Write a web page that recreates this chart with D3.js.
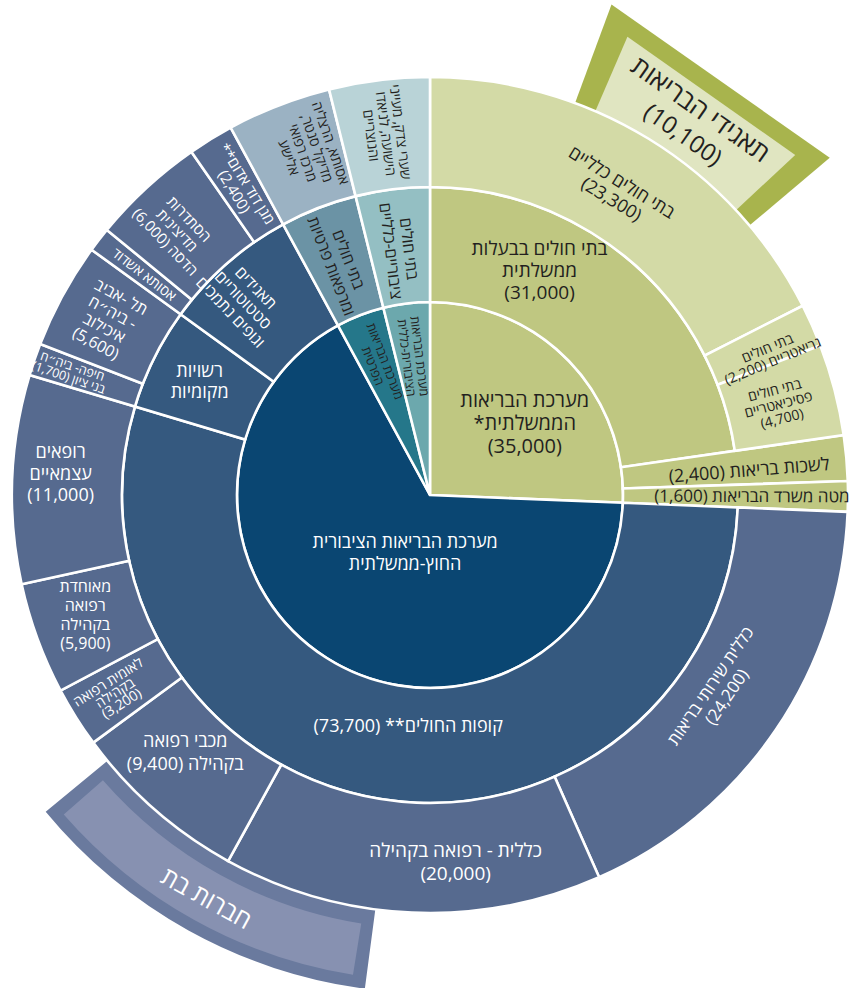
<!DOCTYPE html>
<html lang="he">
<head>
<meta charset="utf-8">
<script src="https://cdn.jsdelivr.net/npm/d3@7"></script>
<style>
  body { margin: 0; background: #fff; }
  svg text { font-family: "Open Sans", "DejaVu Sans", sans-serif; }
</style>
</head>
<body>
<svg id="chart"></svg>
<script>
// ---- data (employees) ----
const systems = [
  {id: 'gov', label: 'מערכת הבריאות\nהממשלתית*\n(35,000)', value: 35000},
  {id: 'pub', label: 'מערכת הבריאות הציבורית\nהחוץ-ממשלתית'},
  {id: 'prv', label: 'מערכת הבריאות\nהפרטית'},
  {id: 'pgn', label: 'מערכת הבריאות\nהציבורית-כללית'}
];

const groups = [
  {id: 'hosp', parent: 'gov', label: 'בתי חולים בבעלות\nממשלתית\n(31,000)', value: 31000},
  {id: 'lishkot', parent: 'gov', label: 'לשכות בריאות (2,400)', value: 2400},
  {id: 'mate', parent: 'gov', label: 'מטה משרד הבריאות (1,600)', value: 1600},
  {id: 'kupot', parent: 'pub', label: 'קופות החולים** (73,700)', value: 73700},
  {id: 'rashuyot', parent: 'pub', label: 'רשויות\nמקומיות'},
  {id: 'taagidim', parent: 'pub', label: 'תאגידים\nסטטוטוריים\nוגופים נתמכים'},
  {id: 'prvHosp', parent: 'prv', label: 'בתי חולים\nומרפאות פרטיות'},
  {id: 'pgnHosp', parent: 'pgn', label: 'בתי חולים\nציבוריים-כלליים'}
];

const units = [
  {id: 'general', parent: 'hosp', label: 'בתי חולים כלליים\n(23,300)', value: 23300},
  {id: 'geriatric', parent: 'hosp', label: 'בתי חולים\nגריאטריים (2,200)', value: 2200},
  {id: 'psych', parent: 'hosp', label: 'בתי חולים\nפסיכיאטריים\n(4,700)', value: 4700},
  {id: 'clalit', parent: 'kupot', label: 'כללית שירותי בריאות\n(24,200)', value: 24200},
  {id: 'clalitCom', parent: 'kupot', label: 'כללית - רפואה בקהילה\n(20,000)', value: 20000},
  {id: 'maccabi', parent: 'kupot', label: 'מכבי רפואה\nבקהילה (9,400)', value: 9400},
  {id: 'leumit', parent: 'kupot', label: 'לאומית רפואה\nבקהילה\n(3,200)', value: 3200},
  {id: 'meuhedet', parent: 'kupot', label: 'מאוחדת\nרפואה\nבקהילה\n(5,900)', value: 5900},
  {id: 'independent', parent: 'kupot', label: 'רופאים\nעצמאיים\n(11,000)', value: 11000},
  {id: 'bneiZion', parent: 'rashuyot', label: 'חיפה- ביה״ח\nבני ציון (1,700)', value: 1700},
  {id: 'ichilov', parent: 'rashuyot', label: 'תל -אביב\n- ביה״ח\nאיכילוב\n(5,600)', value: 5600},
  {id: 'asutaAshdod', parent: 'taagidim', label: 'אסותא אשדוד', value: 1300},
  {id: 'hadassah', parent: 'taagidim', label: 'הסתדרות\nמדיצינית\nהדסה (6,000)', value: 6000},
  {id: 'mda', parent: 'taagidim', label: 'מגן דוד אדום**\n(2,400)', value: 2400},
  {id: 'privateList', parent: 'prvHosp', label: 'אסותא, הרצליה\nמדיקל סנטר,\nמרכז רפואי\nאלישע', value: 5500},
  {id: 'publicList', parent: 'pgnHosp', label: 'שערי צדק, מעייני\nהישועה, לניאדו\nוהנוצריים', value: 5300}
];

// annotation bands, positions given in cumulative employee units round the circle
const overlays = [
  {id: 'corp', label: 'תאגידי הבריאות', sub: '(10,100)', from: 7700, to: 18900},
  {id: 'subs', label: 'חברות בת', from: 71100, to: 87400}
];

// ---- look ----
const width = 860, height = 988;
const cx = 430, cy = 495;
const ringR = [0, 193, 308, 418];

const palette = {
  gov: ['#bfc781', '#bfc781', '#d3daa6'],
  pub: ['#0a4672', '#35597f', '#566a8f'],
  prv: ['#25778a', '#6b93a5', '#9bb2c3'],
  pgn: ['#6ca8ad', '#94bfc3', '#b9d3d7']
};
const inkDark = '#231f20';
const textColor = {gov: inkDark, pub: '#ffffff', prv: inkDark, pgn: inkDark};

// label placement: r = radius, dA = angle shift (deg), mode h / rad / tan
const labelPos = {
  gov: {r: 119, dA: 6.6, mode: 'h', size: 20, lh: 1.15},
  pub: {r: 63, dA: -8.6, mode: 'h', size: 18, lh: 1.2},
  prv: {r: 141, mode: 'rad', size: 12.5, lh: 1.05},
  pgn: {r: 139, mode: 'rad', size: 12.5, lh: 1.05},
  hosp: {r: 250, dA: -14.9, mode: 'h', size: 19, lh: 1.15},
  lishkot: {r: 320, dA: 0.6, mode: 'rad', size: 18},
  mate: {r: 322, mode: 'rad', size: 17},
  kupot: {r: 232, dA: -4.1, mode: 'h', size: 18},
  rashuyot: {r: 257, mode: 'h', size: 18, lh: 1.2},
  taagidim: {r: 270, dA: -2.5, mode: 'rad', size: 16, lh: 1.1},
  prvHosp: {r: 249, mode: 'rad', size: 16, lh: 1.15},
  pgnHosp: {r: 247, mode: 'rad', size: 16, lh: 1.15},
  general: {r: 357, mode: 'tan', size: 18, lh: 1.1},
  geriatric: {r: 368, dA: 1.5, mode: 'rad', size: 14, lh: 1.0},
  psych: {r: 360, mode: 'rad', size: 14, lh: 1.05},
  clalit: {r: 349, mode: 'tan', size: 17, lh: 1.15},
  clalitCom: {r: 368, dA: -6.5, mode: 'h', size: 19, lh: 1.2},
  maccabi: {r: 355, dA: 2.3, mode: 'h', size: 18, lh: 1.25},
  leumit: {r: 372, mode: 'rad', size: 14, lh: 0.9},
  meuhedet: {r: 365, dA: 0.9, mode: 'h', size: 16, lh: 1.2},
  independent: {r: 370, dA: 1.2, mode: 'h', size: 18, lh: 1.2},
  bneiZion: {r: 380, mode: 'rad', size: 12.5, lh: 0.95},
  ichilov: {r: 366, mode: 'rad', size: 16, lh: 1.1},
  asutaAshdod: {r: 361, mode: 'rad', size: 14},
  hadassah: {r: 366, dA: -1, mode: 'rad', size: 15, lh: 1.1},
  mda: {r: 361, mode: 'rad', size: 15, lh: 1.0},
  privateList: {r: 365, dA: 2, mode: 'rad', size: 14, lh: 1.05},
  publicList: {r: 364, mode: 'rad', size: 14, lh: 1.05}
};

// ---- hierarchy ----
const rows = [{id: 'root'}]
  .concat(systems.map(d => ({...d, parent: 'root'})))
  .concat(groups, units);

const root = d3.stratify().id(d => d.id).parentId(d => d.parent)(rows);
root.eachAfter(n => {
  n.value = n.data.value != null ? n.data.value : d3.sum(n.children, c => c.value);
});

const total = root.value;
const angle = d3.scaleLinear().domain([0, total]).range([0, 2 * Math.PI]);
root.x0 = 0;
root.x1 = 2 * Math.PI;
// children fill their parent's arc in proportion to their values
root.eachBefore(n => {
  if (!n.children) return;
  const s = d3.scaleLinear().domain([0, d3.sum(n.children, c => c.value)]).range([n.x0, n.x1]);
  let acc = 0;
  n.children.forEach(c => { c.x0 = s(acc); acc += c.value; c.x1 = s(acc); });
});
root.each(n => {
  n.family = n.depth ? n.ancestors().find(a => a.depth === 1).id : null;
  n.r0 = ringR[Math.max(0, n.depth - 1)];
  n.r1 = n.children ? ringR[n.depth] : ringR[3];
});

const nodes = root.descendants().filter(d => d.depth > 0);

// ---- drawing ----
const svg = d3.select('#chart')
    .attr('width', width)
    .attr('height', height);

const chart = svg.append('g')
    .attr('transform', `translate(${cx},${cy})`);

const deg = a => a * 180 / Math.PI;
const rad = a => a * Math.PI / 180;

// annotation bands sit behind the rings
const corp = overlays.find(d => d.id === 'corp');
const subs = overlays.find(d => d.id === 'subs');

const band = d3.lineRadial()
    .angle(d => d[0])
    .radius(d => d[1])
    .curve(d3.curveLinearClosed);

const quad = (a0, a1, r0, r1) => [[a0, r0], [a0, r1], [a1, r1], [a1, r0]];
const cA0 = angle(corp.from), cA1 = angle(corp.to);
chart.append('path')
    .attr('d', band(quad(cA0, cA1, ringR[3] - 4, 523)))
    .attr('fill', '#a8b44d');
chart.append('path')
    .attr('d', band(quad(cA0 + rad(3), cA1 - rad(2.8), ringR[3] - 4, 499)))
    .attr('fill', '#e0e5c1');

const sA0 = angle(subs.from), sA1 = angle(subs.to);
chart.append('path')
    .attr('d', d3.arc()({startAngle: sA0, endAngle: sA1, innerRadius: ringR[3] - 4, outerRadius: 498}))
    .attr('fill', '#6a7a9e');
chart.append('path')
    .attr('d', d3.arc()({startAngle: sA0 + rad(1.6), endAngle: sA1 - rad(1.6), innerRadius: 434, outerRadius: 486}))
    .attr('fill', '#8791b1');

// rings
const arc = d3.arc()
    .startAngle(d => d.x0)
    .endAngle(d => d.x1)
    .innerRadius(d => d.r0)
    .outerRadius(d => d.r1);

chart.selectAll('.slice')
  .data(nodes)
  .join('path')
    .attr('class', 'slice')
    .attr('d', arc)
    .attr('fill', d => palette[d.family][d.depth - 1])
    .attr('stroke', '#fff')
    .attr('stroke-width', 2.6)
    .attr('stroke-linejoin', 'miter');

// labels
function rotationFor(mode, a) {
  if (mode === 'h') return 0;
  if (mode === 'rad') return a < 180 ? a - 90 : a - 270;
  // tangential
  if (a > 90 && a < 270) return a - 180;
  return a > 270 ? a - 360 : a;
}

function writeLabel(g, lines, a, r, mode, size, color, lh) {
  const x = r * Math.sin(rad(a));
  const y = -r * Math.cos(rad(a));
  const t = g.append('text')
      .attr('transform', `translate(${x},${y}) rotate(${rotationFor(mode, a)})`)
      .attr('text-anchor', 'middle')
      .attr('direction', 'rtl')
      .attr('font-size', size)
      .attr('fill', color);
  const step = size * (lh || 1.12);
  lines.forEach((line, i) => {
    t.append('tspan')
        .attr('x', 0)
        .attr('y', (i - (lines.length - 1) / 2) * step)
        .attr('dy', '0.35em')
        .text(line);
  });
}

const labels = chart.append('g').attr('class', 'labels');
nodes.forEach(d => {
  const p = labelPos[d.id];
  if (!p) return;
  const mid = deg((d.x0 + d.x1) / 2) + (p.dA || 0);
  writeLabel(labels, d.data.label.split('\n'), mid, p.r, p.mode, p.size, textColor[d.family], p.lh);
});

// band captions
const corpMid = deg((cA0 + cA1) / 2);
const cx0 = 457 * Math.sin(rad(corpMid)), cy0 = -457 * Math.cos(rad(corpMid));
const corpText = labels.append('text')
    .attr('transform', `translate(${cx0},${cy0}) rotate(${rotationFor('tan', corpMid)})`)
    .attr('text-anchor', 'middle')
    .attr('direction', 'rtl')
    .attr('fill', inkDark);
corpText.append('tspan').attr('x', 0).attr('y', -5).attr('font-size', 26).text(corp.label);
corpText.append('tspan').attr('x', 0).attr('y', 25).attr('font-size', 24).text(corp.sub);

const subsMid = deg((sA0 + sA1) / 2);
writeLabel(labels, [subs.label], subsMid, 461, 'tan', 25, '#ffffff');
</script>
</body>
</html>
